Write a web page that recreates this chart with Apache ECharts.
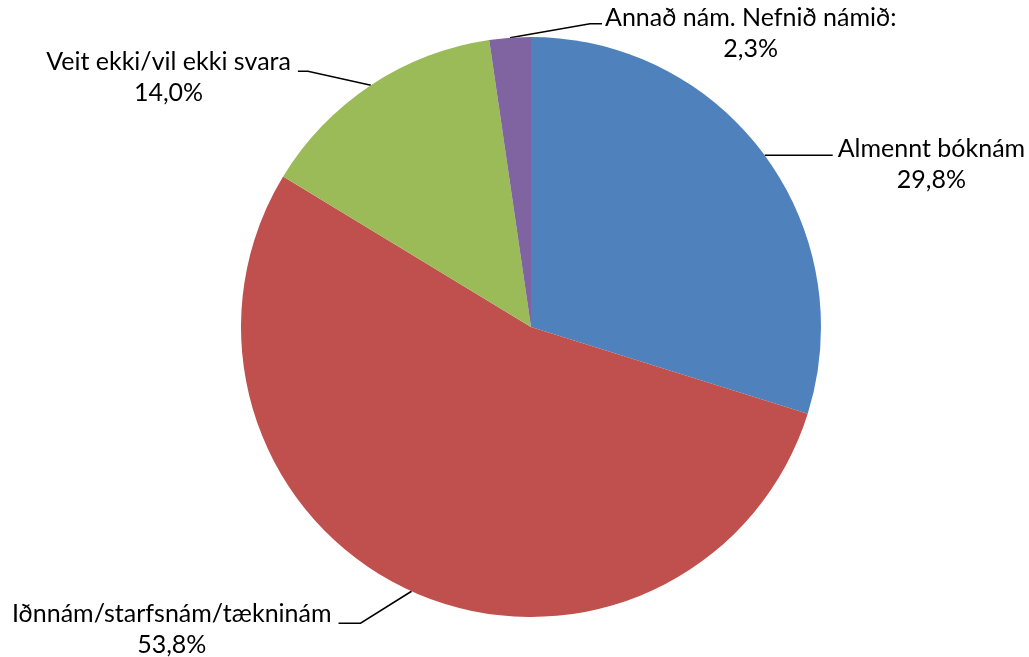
<!DOCTYPE html>
<html>
<head>
<meta charset="utf-8">
<script src="https://cdn.jsdelivr.net/npm/echarts@6/dist/echarts.min.js"></script>
<style>
  html, body { margin: 0; padding: 0; background: #fff; }
  #chart { width: 1029px; height: 657px; }
</style>
</head>
<body>
<div id="chart"></div>
<script>
// Survey answers: share of respondents per type of study (%)
const categories = [
  'Almennt bóknám',
  'Iðnnám/starfsnám/tækninám',
  'Veit ekki/vil ekki svara',
  'Annað nám. Nefnið námið:'
];
const shares = [29.8, 53.8, 14.0, 2.3];
const colors = ['#4F81BD', '#C0504D', '#9BBB59', '#8064A2'];

// Leader line shape per slice: elbow offset from the rim point,
// horizontal run after the elbow, and which side the text sits on.
const leaders = [
  { elbow: [0, 0],     run: 68,  side: 'right', gap: 5, lift: 6 },
  { elbow: [-51, 32],  run: -22, side: 'left',  gap: 7, lift: 9 },
  { elbow: [-63, -14], run: -10, side: 'left',  gap: 7, lift: 9 },
  { elbow: [80, -14],  run: 12,  side: 'right', gap: 3, lift: 6 }
];

const fmtPct = v => v.toFixed(1).replace('.', ',') + '%';
const LINE_H = 31;

const chart = echarts.init(document.getElementById('chart'), null, { renderer: 'canvas' });
chart.setOption({
  animation: false,
  series: [{
    type: 'pie',
    center: [531, 327],
    radius: 290,
    startAngle: 90,
    clockwise: true,
    avoidLabelOverlap: false,
    data: categories.map((name, i) => ({
      name: name,
      value: shares[i],
      itemStyle: { color: colors[i] }
    })),
    itemStyle: { borderWidth: 0 },
    emphasis: { disabled: true },
    label: {
      show: true,
      position: 'outside',
      formatter: p => p.name + '\n' + fmtPct(p.value),
      fontFamily: 'Lato',
      fontSize: 25,
      lineHeight: LINE_H,
      color: '#000000'
    },
    labelLine: {
      show: true,
      length: 20,
      length2: 20,
      lineStyle: { color: '#000000', width: 1.5 }
    },
    labelLayout: function (params) {
      const spec = leaders[params.dataIndex];
      const edge = params.labelLinePoints[0];
      const elbow = [edge[0] + spec.elbow[0], edge[1] + spec.elbow[1]];
      const end = [elbow[0] + spec.run, elbow[1]];
      const w = params.labelRect.width;
      const cx = spec.side === 'right'
        ? end[0] + spec.gap + w / 2
        : end[0] - spec.gap - w / 2;
      return {
        x: cx,
        y: end[1] - spec.lift - LINE_H / 2,
        align: 'center',
        verticalAlign: 'top',
        labelLinePoints: [edge, elbow, end]
      };
    }
  }]
});
</script>
</body>
</html>
